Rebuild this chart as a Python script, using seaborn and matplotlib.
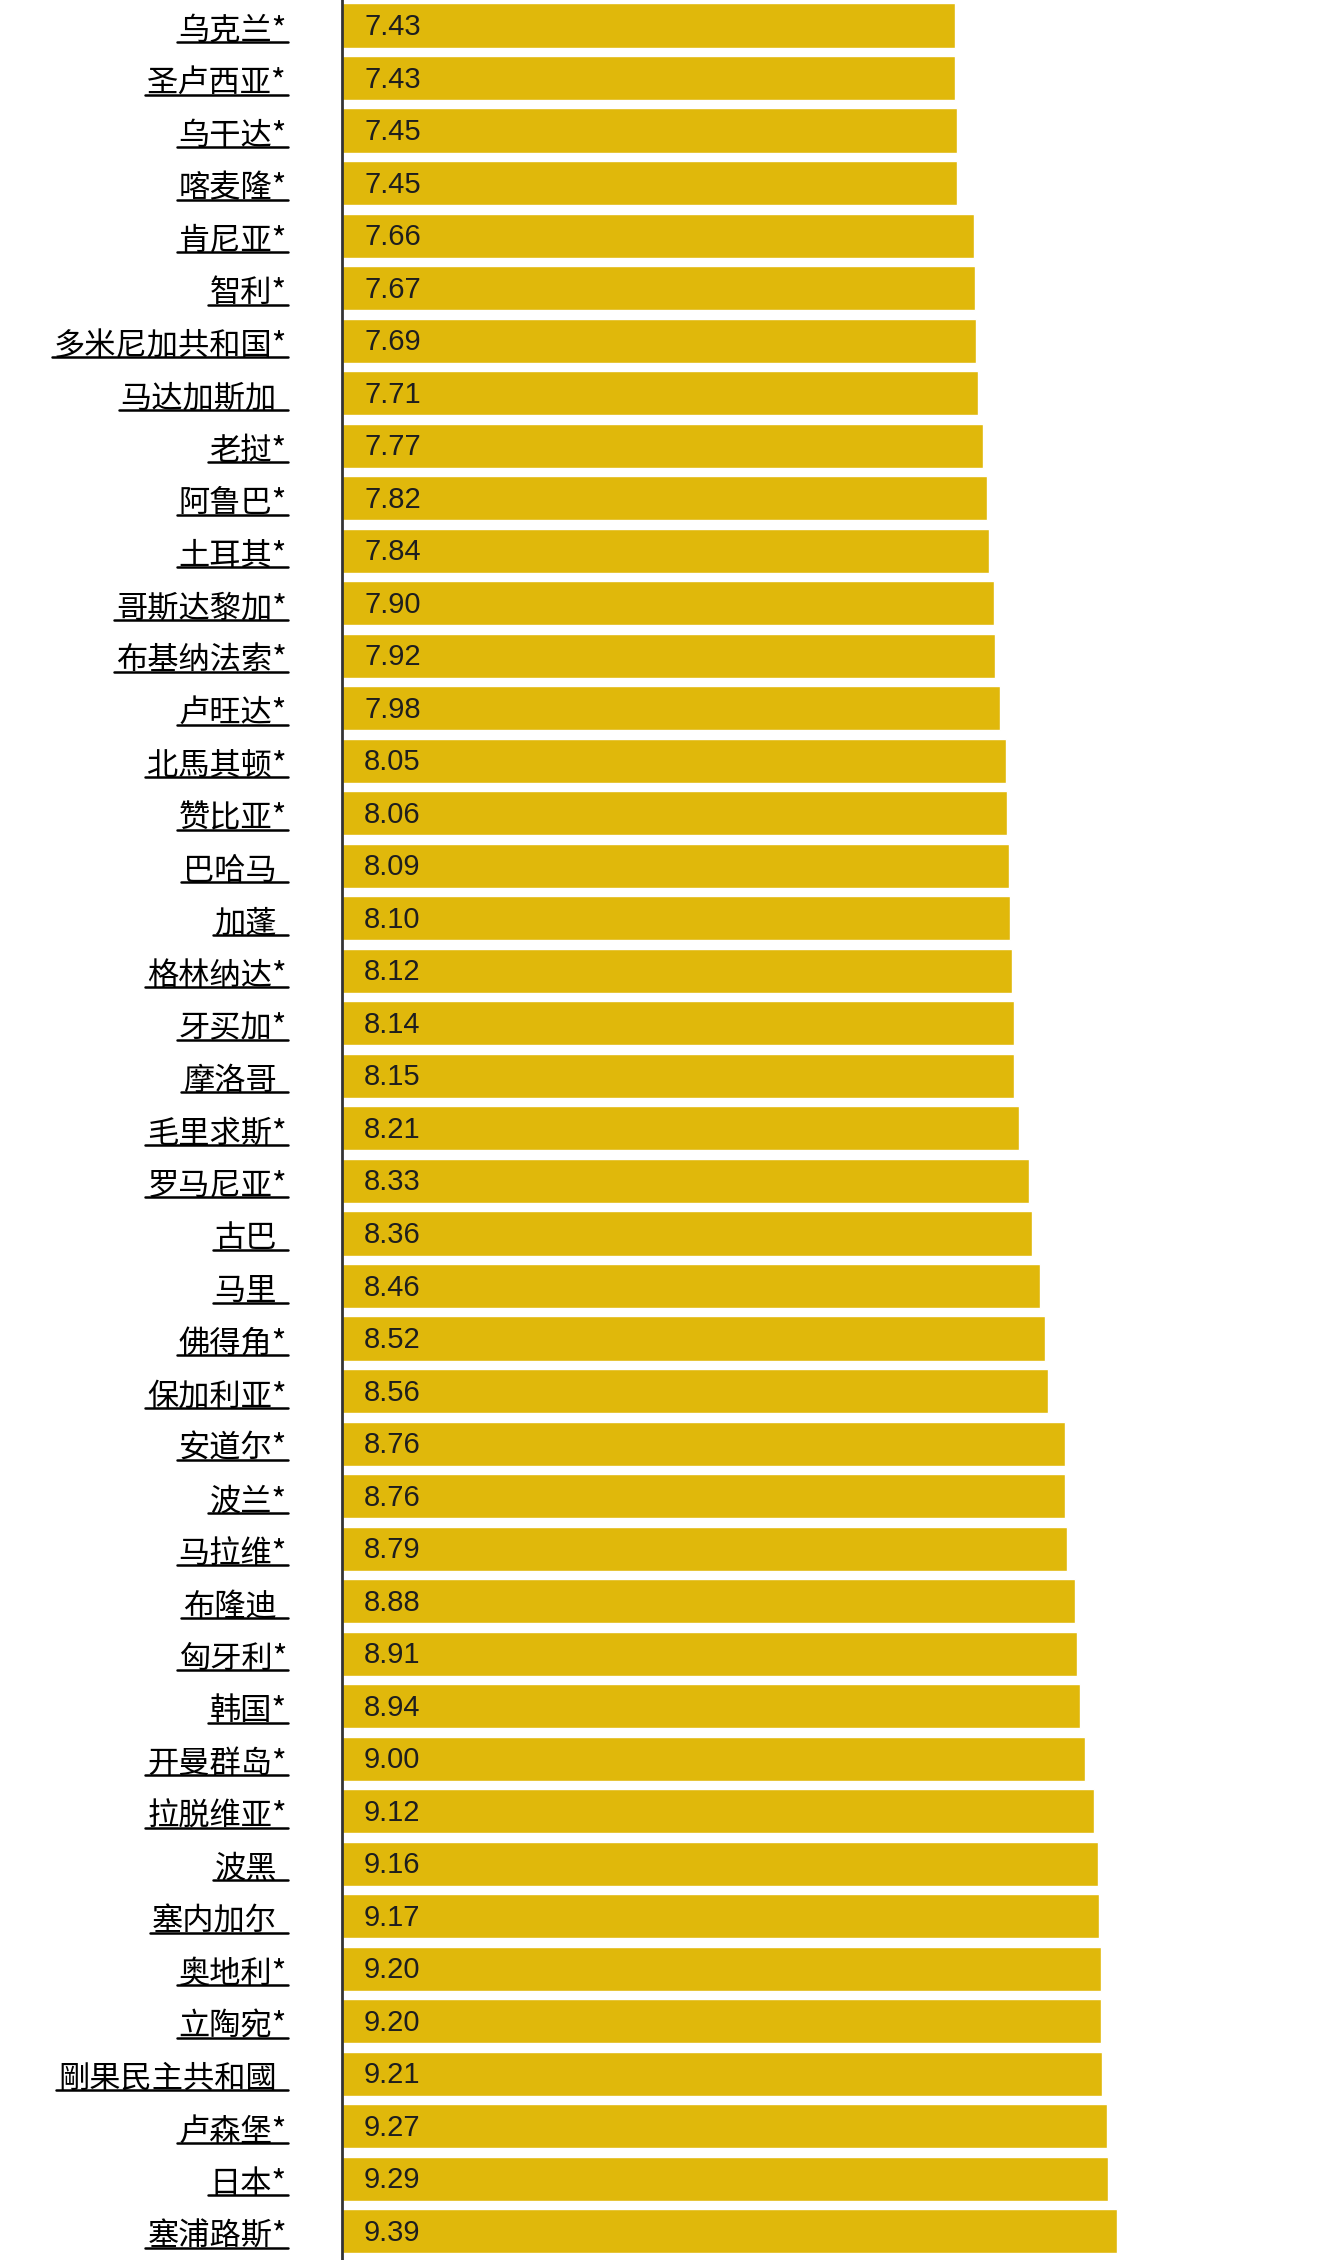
import numpy as np
import pandas as pd
import matplotlib
matplotlib.use('Agg')
import matplotlib.pyplot as plt
from matplotlib.lines import Line2D
from matplotlib.transforms import IdentityTransform
import seaborn as sns

# data, top to bottom
countries = ['乌克兰*', '圣卢西亚*', '乌干达*', '喀麦隆*', '肯尼亚*', '智利*',
             '多米尼加共和国*', '马达加斯加 ', '老挝*', '阿鲁巴*', '土耳其*',
             '哥斯达黎加*', '布基纳法索*', '卢旺达*', '北馬其顿*', '赞比亚*',
             '巴哈马 ', '加蓬 ', '格林纳达*', '牙买加*', '摩洛哥 ', '毛里求斯*',
             '罗马尼亚*', '古巴 ', '马里 ', '佛得角*', '保加利亚*', '安道尔*',
             '波兰*', '马拉维*', '布隆迪 ', '匈牙利*', '韩国*', '开曼群岛*',
             '拉脱维亚*', '波黑 ', '塞内加尔 ', '奥地利*', '立陶宛*',
             '剛果民主共和國 ', '卢森堡*', '日本*', '塞浦路斯*']
scores = [7.43, 7.43, 7.45, 7.45, 7.66, 7.67, 7.69, 7.71, 7.77, 7.82, 7.84,
          7.90, 7.92, 7.98, 8.05, 8.06, 8.09, 8.10, 8.12, 8.14, 8.15, 8.21,
          8.33, 8.36, 8.46, 8.52, 8.56, 8.76, 8.76, 8.79, 8.88, 8.91, 8.94,
          9.00, 9.12, 9.16, 9.17, 9.20, 9.20, 9.21, 9.27, 9.29, 9.39]

df = pd.DataFrame({'country': countries, 'score': scores})
n = len(df)

sns.set_style('white')
plt.rcParams['font.family'] = ['Noto Sans CJK SC', 'DejaVu Sans']

W, H = 1318, 2260
fig = plt.figure(figsize=(W / 100, H / 100), dpi=100)
ax = fig.add_axes([342 / W, 0, 1 - 342 / W, 1])

sns.barplot(data=df, x='score', y=np.arange(n), orient='h', color='#E0B80B',
            saturation=1, width=0.84, ax=ax)
ax.set_xlim(0, 11.83)
ax.set_ylim(42.545, -0.4855)
ax.set_xticks([])
ax.set_yticks([])
ax.set_xlabel('')
ax.set_ylabel('')
for side in ['top', 'right', 'bottom']:
    ax.spines[side].set_visible(False)
ax.spines['left'].set_color('#333333')
ax.spines['left'].set_linewidth(2)

# value labels inside the bars
for i, v in enumerate(scores):
    ax.annotate(f'{v:.2f}', xy=(0, i), xytext=(22, -9.5), textcoords='offset pixels',
                ha='left', va='baseline', fontsize=21, color='#1e1e1e',
                family=['Liberation Sans', 'DejaVu Sans'])

# country labels, right aligned, underlined like links
label_right = -55
space_w = 10
texts = []
for i, name in enumerate(countries):
    shown = name.rstrip()
    shift = space_w if name.endswith(' ') else 0
    t = ax.annotate(shown, xy=(0, i), xytext=(label_right - shift, -14),
                    textcoords='offset pixels', ha='right', va='baseline',
                    fontsize=22.5, color='black', annotation_clip=False)
    texts.append(t)

fig.canvas.draw()
renderer = fig.canvas.get_renderer()
x_axis = ax.transData.transform((0, 0))[0]
for i, t in enumerate(texts):
    bb = t.get_window_extent(renderer)
    yc = ax.transData.transform((0, i))[1]
    y_ul = yc - 16.5
    fig.add_artist(Line2D([bb.x0 - 2, x_axis + label_right + 1], [y_ul, y_ul],
                          transform=IdentityTransform(), color='black', lw=1.8))

fig.savefig('out.png', dpi=100, facecolor='white')
